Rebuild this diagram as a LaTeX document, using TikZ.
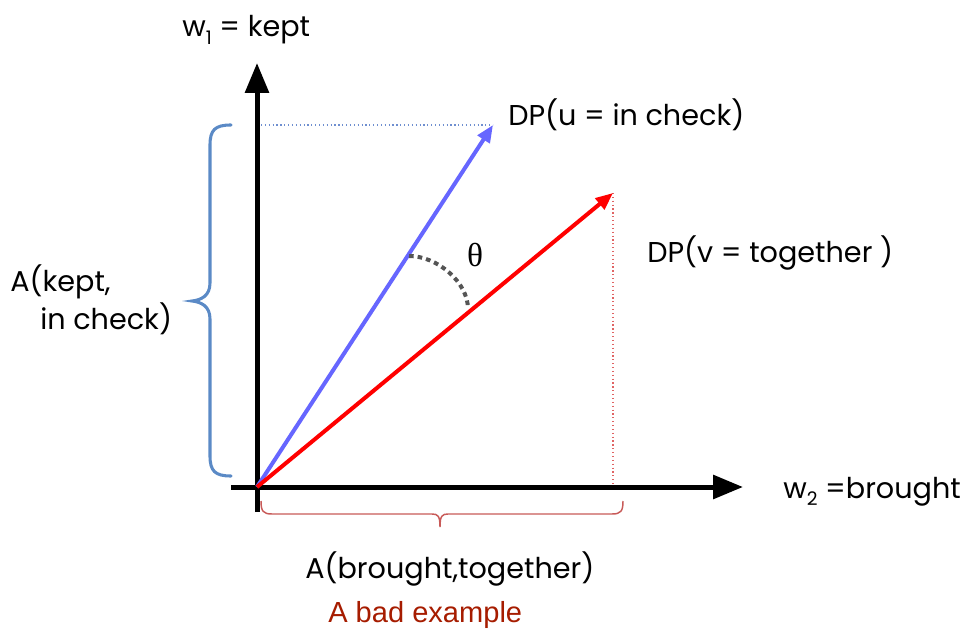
\documentclass[tikz,border=0pt]{standalone}
\usepackage{fontspec}
\setmainfont{Poppins}
\newfontfamily\arialfont{Liberation Sans}
\newfontfamily\seriffont{Liberation Serif}
\usetikzlibrary{arrows.meta}
\definecolor{vecblue}{HTML}{6666FF}
\definecolor{vecred}{HTML}{FF0000}
\definecolor{bracebluec}{HTML}{5B8AC6}
\definecolor{braceredc}{HTML}{C85A58}
\definecolor{dotblue}{HTML}{6F8FD0}
\definecolor{dotred}{HTML}{E06464}
\definecolor{arcgray}{HTML}{555555}
\definecolor{badred}{HTML}{A61C00}
\newcommand{\lowsub}[1]{\raisebox{-0.5ex}{\fontsize{14}{14}\selectfont #1}}
\tikzset{
  axis/.style={line width=3.75pt, -{Triangle[length=22.5pt,width=17.5pt]}},
  vecarrow/.style={line width=3pt, -{Triangle[length=13pt,width=10.5pt]}},
  guide/.style={dotted, line width=0.9pt},
  anglearc/.style={arcgray, line width=3pt, dash pattern=on 3.5pt off 3pt},
  label/.style={inner sep=0pt, anchor=base west, font=\fontsize{21.5}{26}\selectfont},
}
\begin{document}
\begin{tikzpicture}[x=0.75pt, y=-0.75pt]
\useasboundingbox (0,0) rectangle (966,630);

% points
\coordinate (O) at (257,487);
\coordinate (ytop) at (257,63);
\coordinate (ybot) at (257,512);
\coordinate (xleft) at (231,487);
\coordinate (xright) at (743,487);
\coordinate (u) at (493,125);
\coordinate (v) at (613,193);
\coordinate (uy) at (261,125);
\coordinate (vx) at (613,487);
\coordinate (arcu) at (409,256);
\coordinate (arcv) at (468,309);

% projections
\draw[guide, dotblue] (uy) -- (u);
\draw[guide, dotred] (v) -- (vx);

% axes
\draw[axis] (ybot) -- (ytop);
\draw[axis] (xleft) -- (xright);

% vectors
\draw[vecarrow, vecblue] (O) -- (u);
\draw[vecarrow, vecred] (O) -- (v);

% angle between the vectors
\draw[anglearc] (arcu) .. controls (437,256) and (468,282) .. (arcv);
\node[inner sep=0pt, font=\seriffont\fontsize{25}{25}\selectfont] (theta) at (475,255) {θ};

% braces
\draw[bracebluec, line width=2.3pt, line cap=round]
  (231,125) .. controls (215,125) and (210,130) .. (210,145) -- (210,283)
  .. controls (210,296) and (201,300) .. (192,301)
  .. controls (201,302) and (210,306) .. (210,319) -- (210,456)
  .. controls (210,471) and (215,476) .. (231,476);
\draw[braceredc, line width=1.1pt]
  (261,501) .. controls (261,511) and (263,514) .. (272,514) -- (432,514)
  .. controls (438,514) and (440,516) .. (440,527)
  .. controls (440,516) and (442,514) .. (448,514) -- (612,514)
  .. controls (621,514) and (623,511) .. (623,501);

% labels
\node[label] (w1) at (182,37) {w\lowsub{1} = kept};
\node[label] (ulab) at (508,126) {DP(u = in check)};
\node[label] (vlab) at (647,263) {DP(v = together )};
\node[label] (akept) at (10,292) {A(kept,};
\node[label] (acheck) at (40,330) {in check)};
\node[label] (w2) at (783,498) {w\lowsub{2} =brought};
\node[label] (abt) at (305,578) {A(brought,together)};
\node[inner sep=0pt, anchor=base west, text=badred, font=\arialfont\fontsize{21.8}{25}\selectfont] (bad) at (328,622) {A bad example};
\end{tikzpicture}
\end{document}
